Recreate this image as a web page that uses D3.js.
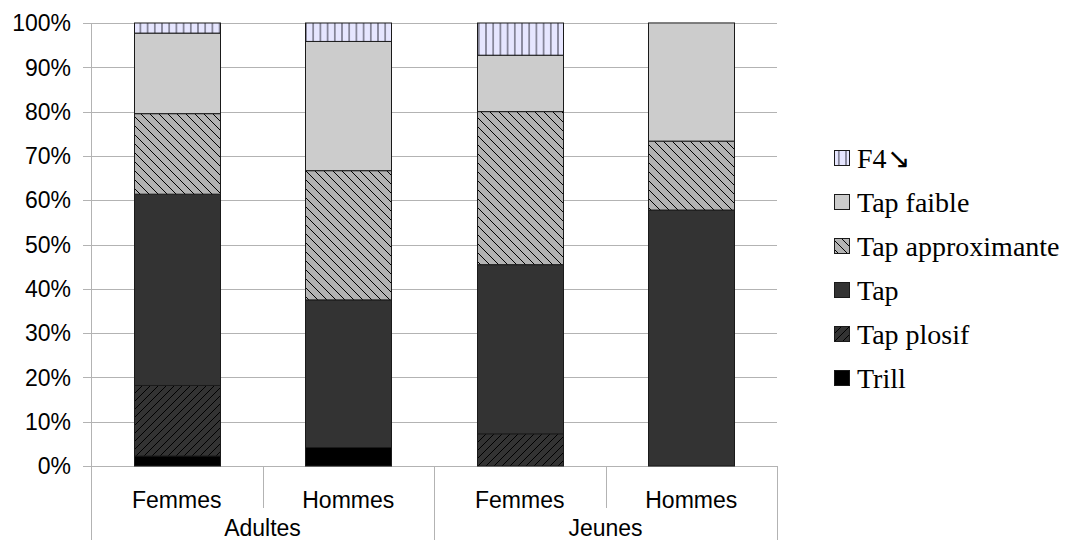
<!DOCTYPE html>
<html>
<head>
<meta charset="utf-8">
<script src="https://cdn.jsdelivr.net/npm/d3@7"></script>
<style>
  html, body { margin: 0; padding: 0; background: #fff; }
  svg { display: block; }
</style>
</head>
<body>
<svg id="chart" width="1068" height="540"></svg>
<script>
// ---- Data ----
const groups = ["Adultes", "Jeunes"];
const subCategories = ["Femmes", "Hommes", "Femmes", "Hommes"];
const categoryGroup = ["Adultes", "Adultes", "Jeunes", "Jeunes"];
const seriesNames = ["Trill", "Tap plosif", "Tap", "Tap approximante", "Tap faible", "F4\u2198"];
const trill = [2.27, 4.17, 0, 0];
const tapPlosif = [15.91, 0, 7.27, 0];
const tap = [43.18, 33.33, 38.18, 57.78];
const tapApprox = [18.18, 29.17, 34.55, 15.56];
const tapFaible = [18.18, 29.17, 12.73, 26.67];
const f4 = [2.28, 4.16, 7.27, 0];
const yTicks = [0, 10, 20, 30, 40, 50, 60, 70, 80, 90, 100];

const seriesValues = [trill, tapPlosif, tap, tapApprox, tapFaible, f4];

// ---- Layout ----
const svg = d3.select("#chart");
const x0 = 91, x1 = 777, yTop = 23, yBot = 466;
const keys = d3.range(subCategories.length);
const x = d3.scaleBand().domain(keys).range([x0, x1]).paddingInner(0).paddingOuter(0);
const y = d3.scaleLinear().domain([0, 100]).range([yBot, yTop]);
const barW = x.bandwidth() * 0.5;

// ---- Patterns ----
const defs = svg.append("defs");
function hatch(id, bg, dir, stroke, size) {
  const p = defs.append("pattern").attr("id", id).attr("patternUnits", "userSpaceOnUse")
    .attr("width", size).attr("height", size);
  p.append("rect").attr("width", size).attr("height", size).attr("fill", bg);
  if (dir === "fwd") {
    p.append("path").attr("d", `M0,${size} L${size},0 M${-size/2},${size/2} L${size/2},${-size/2} M${size/2},${size*1.5} L${size*1.5},${size/2}`)
      .attr("stroke", stroke).attr("stroke-width", 1);
  } else if (dir === "back") {
    p.append("path").attr("d", `M0,0 L${size},${size} M${-size/2},${size/2} L${size/2},${size*1.5} M${size/2},${-size/2} L${size*1.5},${size/2}`)
      .attr("stroke", stroke).attr("stroke-width", 1);
  } else {
    p.append("path").attr("d", `M${size/2},0 L${size/2},${size}`)
      .attr("stroke", stroke).attr("stroke-width", 1.2);
  }
}
hatch("pPlosif", "#333333", "fwd", "#000000", 8);
hatch("pApprox", "#b3b3b3", "back", "#000000", 9);
hatch("pF4", "#e6e6ff", "vert", "#555566", 7.2);
const fills = ["#000000", "url(#pPlosif)", "#333333", "url(#pApprox)", "#cccccc", "url(#pF4)"];

// ---- Gridlines ----
const gridColor = "#b3b3b3";
svg.append("g").selectAll("line").data(yTicks).join("line")
  .attr("x1", x0 - 8).attr("x2", x1)
  .attr("y1", d => Math.round(y(d)) + 0.5).attr("y2", d => Math.round(y(d)) + 0.5)
  .attr("stroke", gridColor).attr("stroke-width", 1);

// Y axis line
svg.append("line").attr("x1", x0 + 0.5).attr("x2", x0 + 0.5).attr("y1", yTop).attr("y2", 540)
  .attr("stroke", gridColor);

const sans = "Liberation Sans, Arial, sans-serif";

// Y labels
svg.append("g").selectAll("text").data(yTicks).join("text")
  .attr("x", 71).attr("y", d => y(d)).attr("dy", "0.36em")
  .attr("text-anchor", "end")
  .attr("font-family", sans).attr("font-size", 23)
  .attr("fill", "#000").text(d => d + "%");

// ---- Stacked bars ----
const stackData = keys.map(i => {
  const o = { i };
  seriesNames.forEach((s, k) => o[s] = seriesValues[k][i]);
  return o;
});
const stacked = d3.stack().keys(seriesNames)(stackData);
const gBars = svg.append("g");
stacked.forEach((layer, k) => {
  gBars.append("g").selectAll("rect").data(layer.filter(d => d[1] - d[0] > 0)).join("rect")
    .attr("x", d => Math.round(x(d.data.i) + (x.bandwidth() - barW) / 2) + 0.5)
    .attr("width", Math.round(barW))
    .attr("y", d => y(d[1]))
    .attr("height", d => y(d[0]) - y(d[1]))
    .attr("fill", fills[k])
    .attr("stroke", "#1a1a1a").attr("stroke-width", 1);
});

// ---- X axis separators ----
const bounds = d3.range(subCategories.length + 1).map(i => i < subCategories.length ? x(i) : x1);
svg.append("g").selectAll("line").data(bounds).join("line")
  .attr("x1", d => Math.round(d) + 0.5).attr("x2", d => Math.round(d) + 0.5)
  .attr("y1", yBot)
  .attr("y2", (d, i) => i % 2 === 0 ? 540 : 508)
  .attr("stroke", gridColor);

// sub-category labels
svg.append("g").selectAll("text").data(keys).join("text")
  .attr("x", i => x(i) + x.bandwidth() / 2).attr("y", 508)
  .attr("text-anchor", "middle")
  .attr("font-family", sans).attr("font-size", 23)
  .attr("fill", "#000").text(i => subCategories[i]);

// group labels
svg.append("g").selectAll("text").data(groups).join("text")
  .attr("x", g => {
    const idx = keys.filter(i => categoryGroup[i] === g);
    return (x(idx[0]) + x(idx[idx.length - 1]) + x.bandwidth()) / 2;
  })
  .attr("y", 536)
  .attr("text-anchor", "middle")
  .attr("font-family", sans).attr("font-size", 23)
  .attr("fill", "#000").text(g => g);

// ---- Legend ----
const legendOrder = seriesNames.map((s, k) => k).reverse();
const leg = svg.append("g");
const legY0 = 158, legStep = 44;
legendOrder.forEach((k, j) => {
  const cy = legY0 + j * legStep;
  leg.append("rect").attr("x", 834.5).attr("y", cy - 7.5).attr("width", 15).attr("height", 15)
    .attr("fill", fills[k]).attr("stroke", "#1a1a1a").attr("stroke-width", 1);
  leg.append("text").attr("x", 857).attr("y", cy).attr("dy", "0.35em")
    .attr("font-family", "Liberation Serif, Times New Roman, serif").attr("font-size", 28)
    .attr("fill", "#000").text(seriesNames[k]);
});
</script>
</body>
</html>
